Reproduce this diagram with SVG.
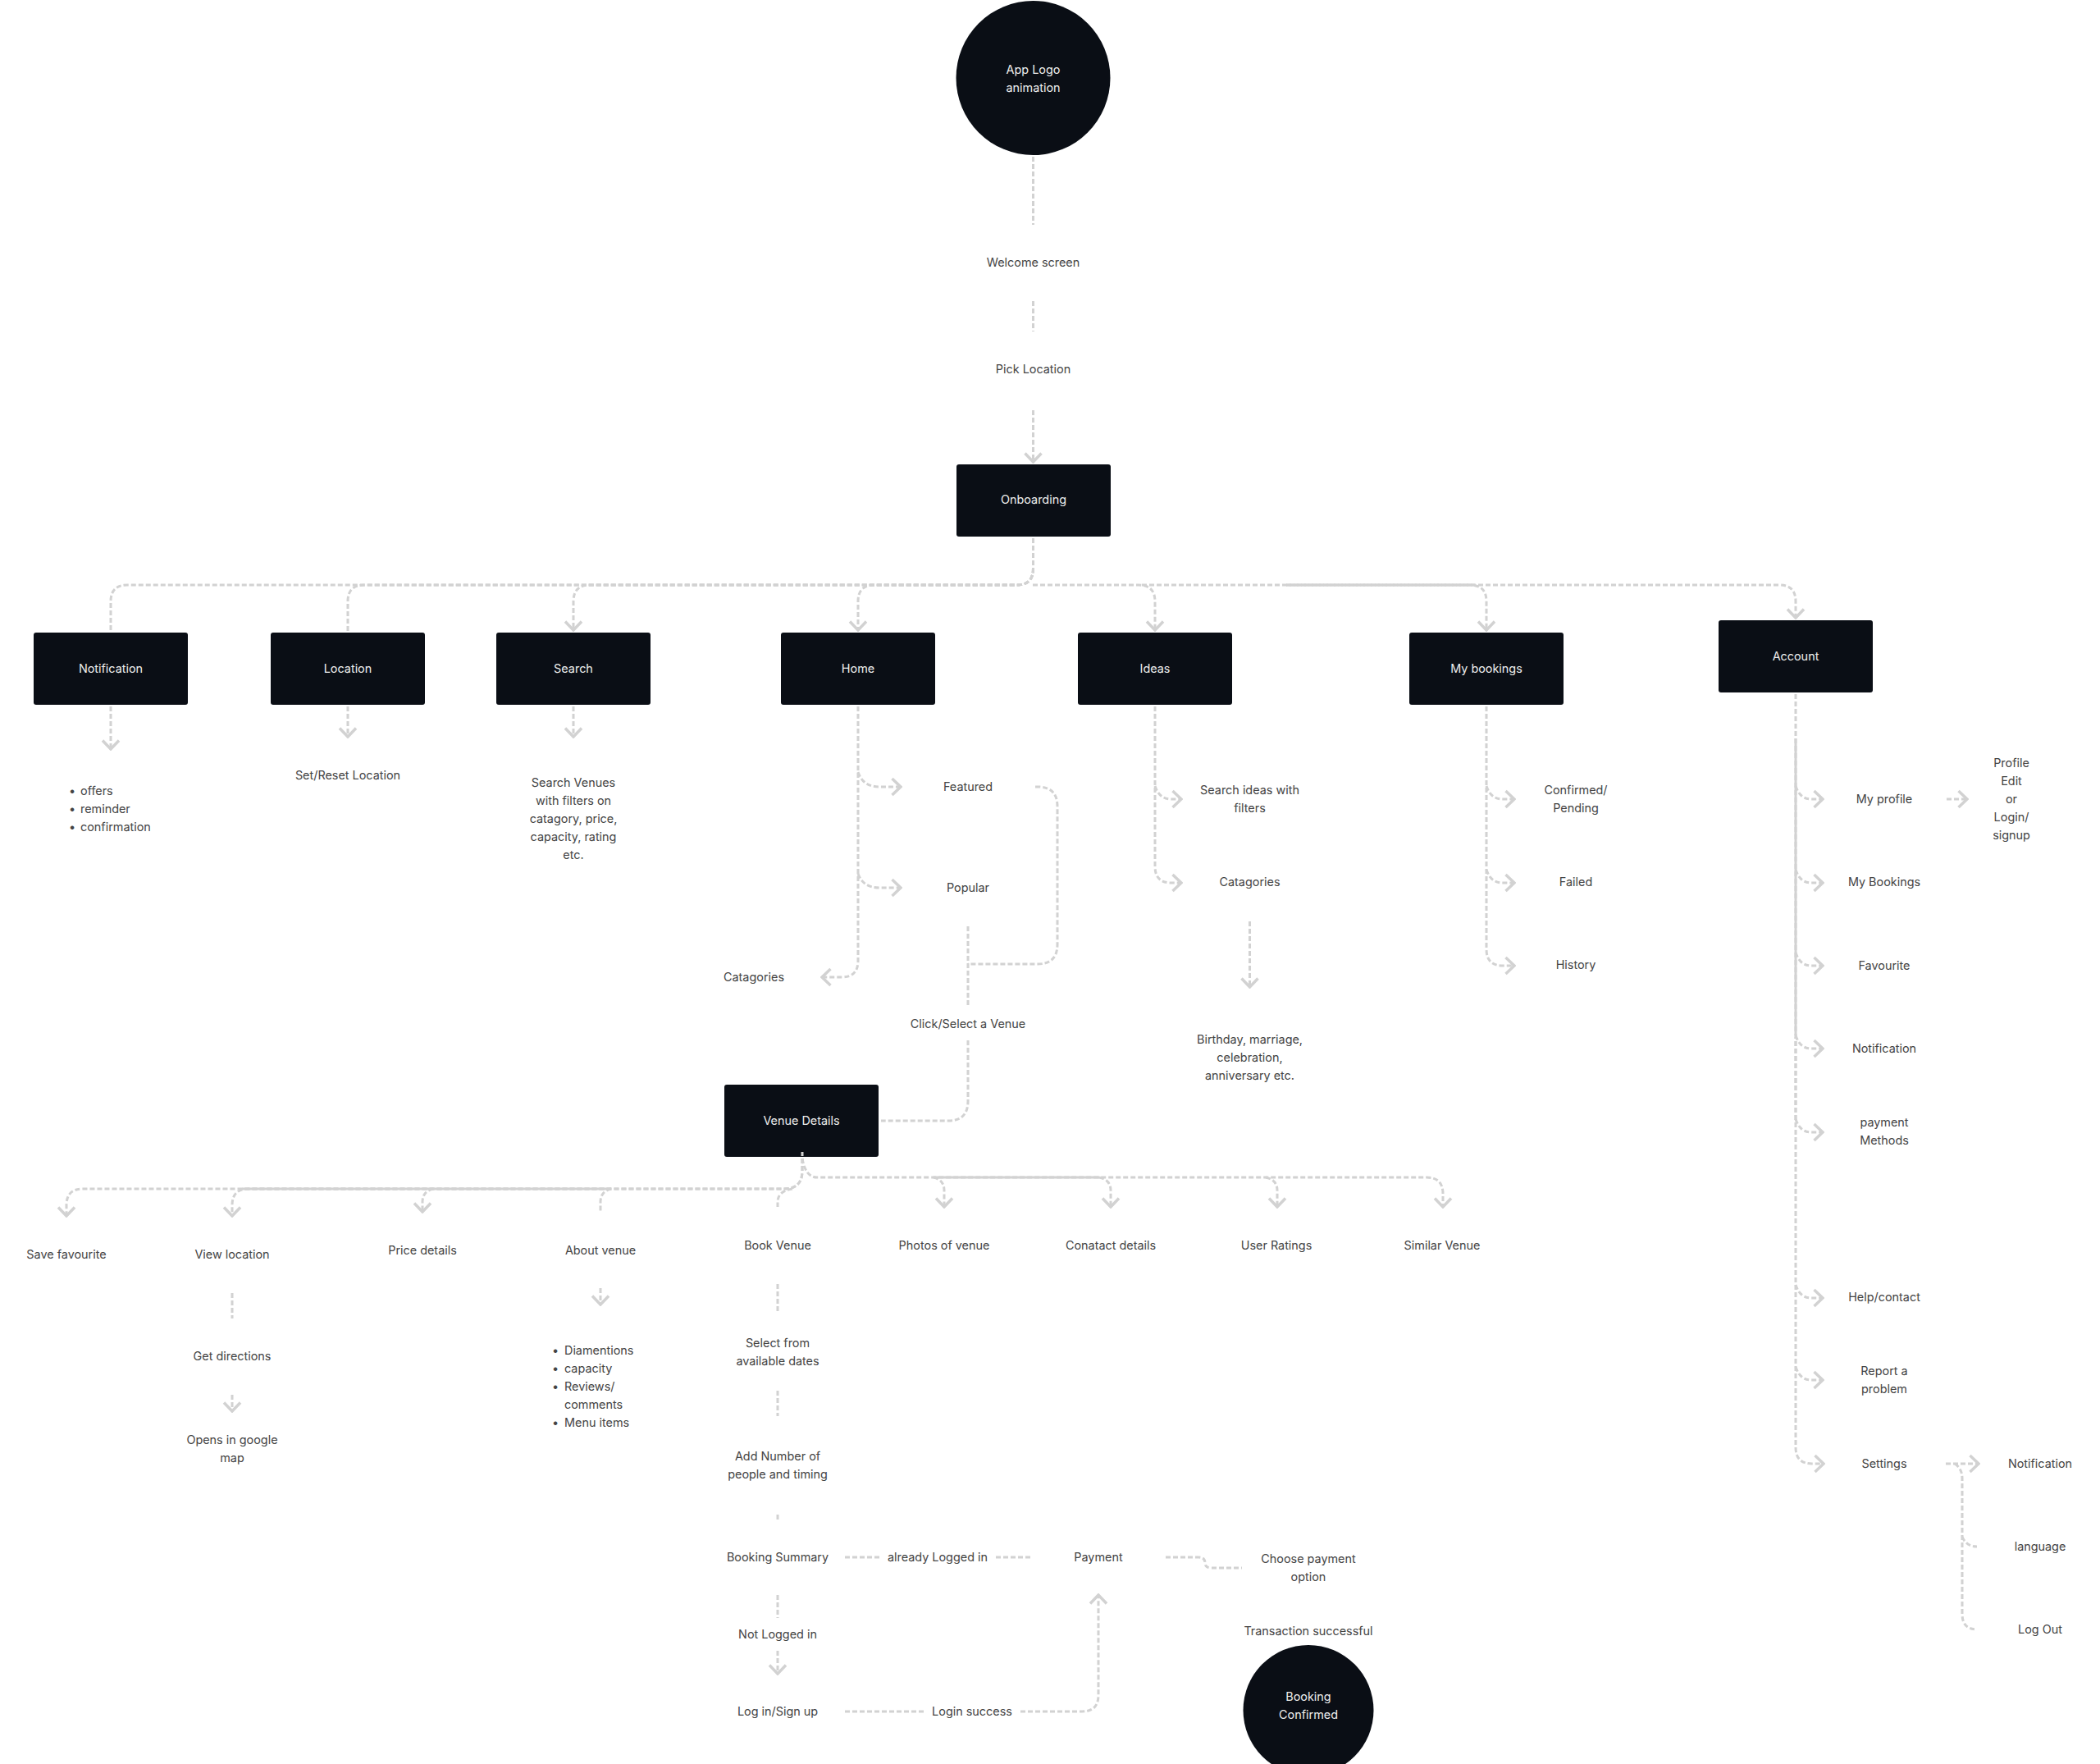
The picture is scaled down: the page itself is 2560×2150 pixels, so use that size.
<svg xmlns="http://www.w3.org/2000/svg" width="2560" height="2150" viewBox="0 0 2560 2150">
<style>
text{font-family:Inter,"Liberation Sans",sans-serif;font-size:14.4px;fill:#444;text-anchor:middle}
.w{fill:#eee}
.l{text-anchor:start}
.b{fill:#0a0e15}
#connectors path{fill:none;stroke:#d2d2d2;stroke-width:3;stroke-dasharray:6 3}
#connectors path.a{marker-end:url(#arrow)}
#connectors path.s{stroke-dasharray:none}
</style>
<defs>
<marker id="arrow" markerUnits="userSpaceOnUse" viewBox="-13 -12 15 24" refX="0" refY="0" markerWidth="15" markerHeight="24" orient="auto">
<path d="M-10.5 -10L0 0L-10.5 10" fill="none" stroke="#d2d2d2" stroke-width="3.5"/>
</marker>
</defs>
<rect width="2560" height="2150" fill="#fff"/>
<g id="node-app-logo"><circle class="b" cx="1259.5" cy="95" r="94"/><text class="w" x="1259.5" y="90">App Logo<tspan x="1259.5" dy="22">animation</tspan></text></g>
<g id="node-welcome"><text x="1259.5" y="325">Welcome screen</text></g>
<g id="node-pick-location"><text x="1259.5" y="455">Pick Location</text></g>
<g id="node-onboarding"><rect class="b" x="1166" y="566" width="188" height="88" rx="3"/><text class="w" x="1260" y="614">Onboarding</text></g>

<g id="node-notification"><rect class="b" x="41" y="771" width="188" height="88" rx="3"/><text class="w" x="135" y="820">Notification</text></g>
<g id="node-location"><rect class="b" x="330" y="771" width="188" height="88" rx="3"/><text class="w" x="424" y="820">Location</text></g>
<g id="node-search"><rect class="b" x="605" y="771" width="188" height="88" rx="3"/><text class="w" x="699" y="820">Search</text></g>
<g id="node-home"><rect class="b" x="952" y="771" width="188" height="88" rx="3"/><text class="w" x="1046" y="820">Home</text></g>
<g id="node-ideas"><rect class="b" x="1314" y="771" width="188" height="88" rx="3"/><text class="w" x="1408" y="820">Ideas</text></g>
<g id="node-my-bookings"><rect class="b" x="1718" y="771" width="188" height="88" rx="3"/><text class="w" x="1812" y="820">My bookings</text></g>
<g id="node-account"><rect class="b" x="2095" y="756" width="188" height="88" rx="3"/><text class="w" x="2189" y="805">Account</text></g>

<g id="node-notification-list"><text x="88" y="969">•<tspan x="88" dy="22">•</tspan><tspan x="88" dy="22">•</tspan></text><text class="l" x="98" y="969">offers<tspan x="98" dy="22">reminder</tspan><tspan x="98" dy="22">confirmation</tspan></text></g>
<g id="node-set-location"><text x="424" y="950">Set/Reset Location</text></g>
<g id="node-search-venues"><text x="699" y="959">Search Venues<tspan x="699" dy="22">with filters on</tspan><tspan x="699" dy="22">catagory, price,</tspan><tspan x="699" dy="22">capacity, rating</tspan><tspan x="699" dy="22">etc.</tspan></text></g>

<g id="node-featured"><text x="1180" y="964">Featured</text></g>
<g id="node-popular"><text x="1180" y="1087">Popular</text></g>
<g id="node-home-categories"><text x="919" y="1196">Catagories</text></g>
<g id="node-click-select"><text x="1180" y="1253">Click/Select a Venue</text></g>
<g id="node-venue-details"><rect class="b" x="883" y="1322" width="188" height="88" rx="3"/><text class="w" x="977" y="1371">Venue Details</text></g>

<g id="node-search-ideas"><text x="1523.5" y="968">Search ideas with<tspan x="1523.5" dy="22">filters</tspan></text></g>
<g id="node-ideas-categories"><text x="1523.5" y="1080">Catagories</text></g>
<g id="node-birthday"><text x="1523.5" y="1272">Birthday, marriage,<tspan x="1523.5" dy="22">celebration,</tspan><tspan x="1523.5" dy="22">anniversary etc.</tspan></text></g>

<g id="node-confirmed"><text x="1921" y="968">Confirmed/<tspan x="1921" dy="22">Pending</tspan></text></g>
<g id="node-failed"><text x="1921" y="1080">Failed</text></g>
<g id="node-history"><text x="1921" y="1181">History</text></g>

<g id="node-my-profile"><text x="2297" y="979">My profile</text></g>
<g id="node-profile-edit"><text x="2452" y="935">Profile<tspan x="2452" dy="22">Edit</tspan><tspan x="2452" dy="22">or</tspan><tspan x="2452" dy="22">Login/</tspan><tspan x="2452" dy="22">signup</tspan></text></g>
<g id="node-acc-bookings"><text x="2297" y="1080">My Bookings</text></g>
<g id="node-favourite"><text x="2297" y="1182">Favourite</text></g>
<g id="node-acc-notification"><text x="2297" y="1283">Notification</text></g>
<g id="node-payment-methods"><text x="2297" y="1373">payment<tspan x="2297" dy="22">Methods</tspan></text></g>
<g id="node-help"><text x="2297" y="1586">Help/contact</text></g>
<g id="node-report"><text x="2297" y="1676">Report a<tspan x="2297" dy="22">problem</tspan></text></g>
<g id="node-settings"><text x="2297" y="1789">Settings</text></g>
<g id="node-set-notification"><text x="2487" y="1789">Notification</text></g>
<g id="node-language"><text x="2487" y="1890">language</text></g>
<g id="node-logout"><text x="2487" y="1991">Log Out</text></g>

<g id="node-save-favourite"><text x="81" y="1534">Save favourite</text></g>
<g id="node-view-location"><text x="283" y="1534">View location</text></g>
<g id="node-price-details"><text x="515" y="1529">Price details</text></g>
<g id="node-about-venue"><text x="732" y="1529">About venue</text></g>
<g id="node-book-venue"><text x="948" y="1523">Book Venue</text></g>
<g id="node-photos"><text x="1151" y="1523">Photos of venue</text></g>
<g id="node-contact"><text x="1354" y="1523">Conatact details</text></g>
<g id="node-ratings"><text x="1556" y="1523">User Ratings</text></g>
<g id="node-similar"><text x="1758" y="1523">Similar Venue</text></g>

<g id="node-get-directions"><text x="283" y="1658">Get directions</text></g>
<g id="node-google-map"><text x="283" y="1760">Opens in google<tspan x="283" dy="22">map</tspan></text></g>
<g id="node-about-list"><text x="677" y="1651">•<tspan x="677" dy="22">•</tspan><tspan x="677" dy="22">•</tspan><tspan x="677" dy="44">•</tspan></text><text class="l" x="688" y="1651">Diamentions<tspan x="688" dy="22">capacity</tspan><tspan x="688" dy="22">Reviews/</tspan><tspan x="688" dy="22">comments</tspan><tspan x="688" dy="22">Menu items</tspan></text></g>

<g id="node-select-dates"><text x="948" y="1642">Select from<tspan x="948" dy="22">available dates</tspan></text></g>
<g id="node-add-number"><text x="948" y="1780">Add Number of<tspan x="948" dy="22">people and timing</tspan></text></g>
<g id="node-booking-summary"><text x="948" y="1903">Booking Summary</text></g>
<g id="node-already-logged"><text x="1143" y="1903">already Logged in</text></g>
<g id="node-payment"><text x="1339" y="1903">Payment</text></g>
<g id="node-choose-payment"><text x="1595" y="1905">Choose payment<tspan x="1595" dy="22">option</tspan></text></g>
<g id="node-transaction"><text x="1595" y="1993">Transaction successful</text></g>
<g id="node-not-logged"><text x="948" y="1997">Not Logged in</text></g>
<g id="node-login"><text x="948" y="2091">Log in/Sign up</text></g>
<g id="node-login-success"><text x="1185" y="2091">Login success</text></g>
<g id="node-booking-confirmed"><circle class="b" cx="1595" cy="2084.5" r="79.5"/><text class="w" x="1595" y="2073">Booking<tspan x="1595" dy="22">Confirmed</tspan></text></g>

<g id="connectors">
<path d="M1259.5 191V274"/>
<path d="M1259.5 367V404"/>
<path class="a" d="M1259.5 500V563"/>
<path d="M1259.5 656V693Q1259.5 713 1239.5 713H155Q135 713 135 733V769"/>
<path d="M1259.5 656V693Q1259.5 713 1239.5 713H444Q424 713 424 733V769"/>
<path class="a" d="M1259.5 656V693Q1259.5 713 1239.5 713H719Q699 713 699 733V768"/>
<path class="a" d="M1259.5 656V693Q1259.5 713 1239.5 713H1066Q1046 713 1046 733V768"/>
<path class="a" d="M1259 713H1388Q1408 713 1408 733V768"/>
<path class="a" d="M1392 713H1792Q1812 713 1812 733V768"/>
<path class="s" d="M1568 713H1798"/>
<path class="a" d="M1568 713H2169Q2189 713 2189 733V753"/>
<path class="a" d="M135 861V913"/>
<path class="a" d="M424 861V898"/>
<path class="a" d="M699 861V898"/>

<path class="a" d="M1046 861V1171Q1046 1191 1026 1191H1002"/>
<path class="a" d="M1046 941Q1052 959 1072 959H1098"/>
<path class="a" d="M1046 1065Q1052 1082 1072 1082H1098"/>
<path d="M1262 959H1265Q1289 959 1289 983V1151Q1289 1175 1265 1175H1180"/>
<path d="M1180 1129V1227"/>
<path d="M1180 1268V1342Q1180 1366 1156 1366H1074"/>

<path class="a" d="M1408 861V1056Q1408 1076 1428 1076H1440"/>
<path class="a" d="M1408 958Q1413 974 1428 974H1440"/>
<path class="a" d="M1523.5 1123V1203"/>
<path class="a" d="M1812 861V1157Q1812 1177 1832 1177H1846"/>
<path class="a" d="M1812 958Q1817 974 1832 974H1846"/>
<path class="a" d="M1812 1060Q1817 1076 1832 1076H1846"/>

<path class="a" d="M2189 846V1764Q2189 1784 2209 1784H2223"/>
<path class="s" d="M2189 900V1262"/>
<path d="M2189 1264V1365" stroke-dashoffset="4"/>
<path class="a" d="M2189 958Q2194 974 2208 974H2222"/>
<path class="a" d="M2189 1060Q2194 1076 2208 1076H2222"/>
<path class="a" d="M2189 1161Q2194 1177 2208 1177H2222"/>
<path class="a" d="M2189 1262Q2194 1278 2208 1278H2222"/>
<path class="a" d="M2189 1364Q2194 1380 2208 1380H2222"/>
<path class="a" d="M2189 1566Q2194 1582 2208 1582H2222"/>
<path class="a" d="M2189 1666Q2194 1682 2208 1682H2222"/>
<path class="a" d="M2373 974H2398"/>
<path class="a" d="M2372 1784H2412"/>
<path d="M2383 1784Q2392 1790 2392 1802V1967Q2392 1986 2410 1986"/>
<path d="M2392 1873Q2397 1885 2410 1885"/>

<path d="M978 1404V1409" class="s"/>
<path class="a" d="M978 1412V1427Q978 1449 956 1449H101Q81 1449 81 1469V1482"/>
<path class="a" d="M978 1412V1427Q978 1449 956 1449H303Q283 1449 283 1469V1482"/>
<path class="s" d="M295 1449H745"/>
<path class="a" d="M528 1449Q515 1452 515 1465V1477"/>
<path d="M745 1449Q732 1452 732 1465V1477"/>
<path d="M966 1449Q948 1452 948 1465V1471"/>
<path class="a" d="M978 1412Q982 1435 996 1435H1739Q1759 1435 1759 1455V1471"/>
<path class="s" d="M1138 1435H1340"/>
<path class="a" d="M1138 1435Q1151 1438 1151 1451V1471"/>
<path class="a" d="M1340 1435Q1354 1438 1354 1451V1471"/>
<path class="a" d="M1543 1435Q1557 1438 1557 1451V1471"/>

<path d="M283 1576V1607"/>
<path class="a" d="M283 1700V1720"/>
<path class="a" d="M732 1570V1590"/>
<path d="M948 1565V1600"/>
<path d="M948 1695V1726"/>
<path d="M948 1846V1852"/>
<path d="M1030 1898H1073"/>
<path d="M1214 1898H1256"/>
<path d="M1421 1898H1461Q1469 1898 1469 1905Q1469 1911 1477 1911H1514"/>
<path d="M948 1944V1972"/>
<path class="a" d="M948 2012V2040"/>
<path d="M1030 2086H1126"/>
<path class="a" d="M1244 2086H1319Q1339 2086 1339 2066V1944"/>
</g>
</svg>
